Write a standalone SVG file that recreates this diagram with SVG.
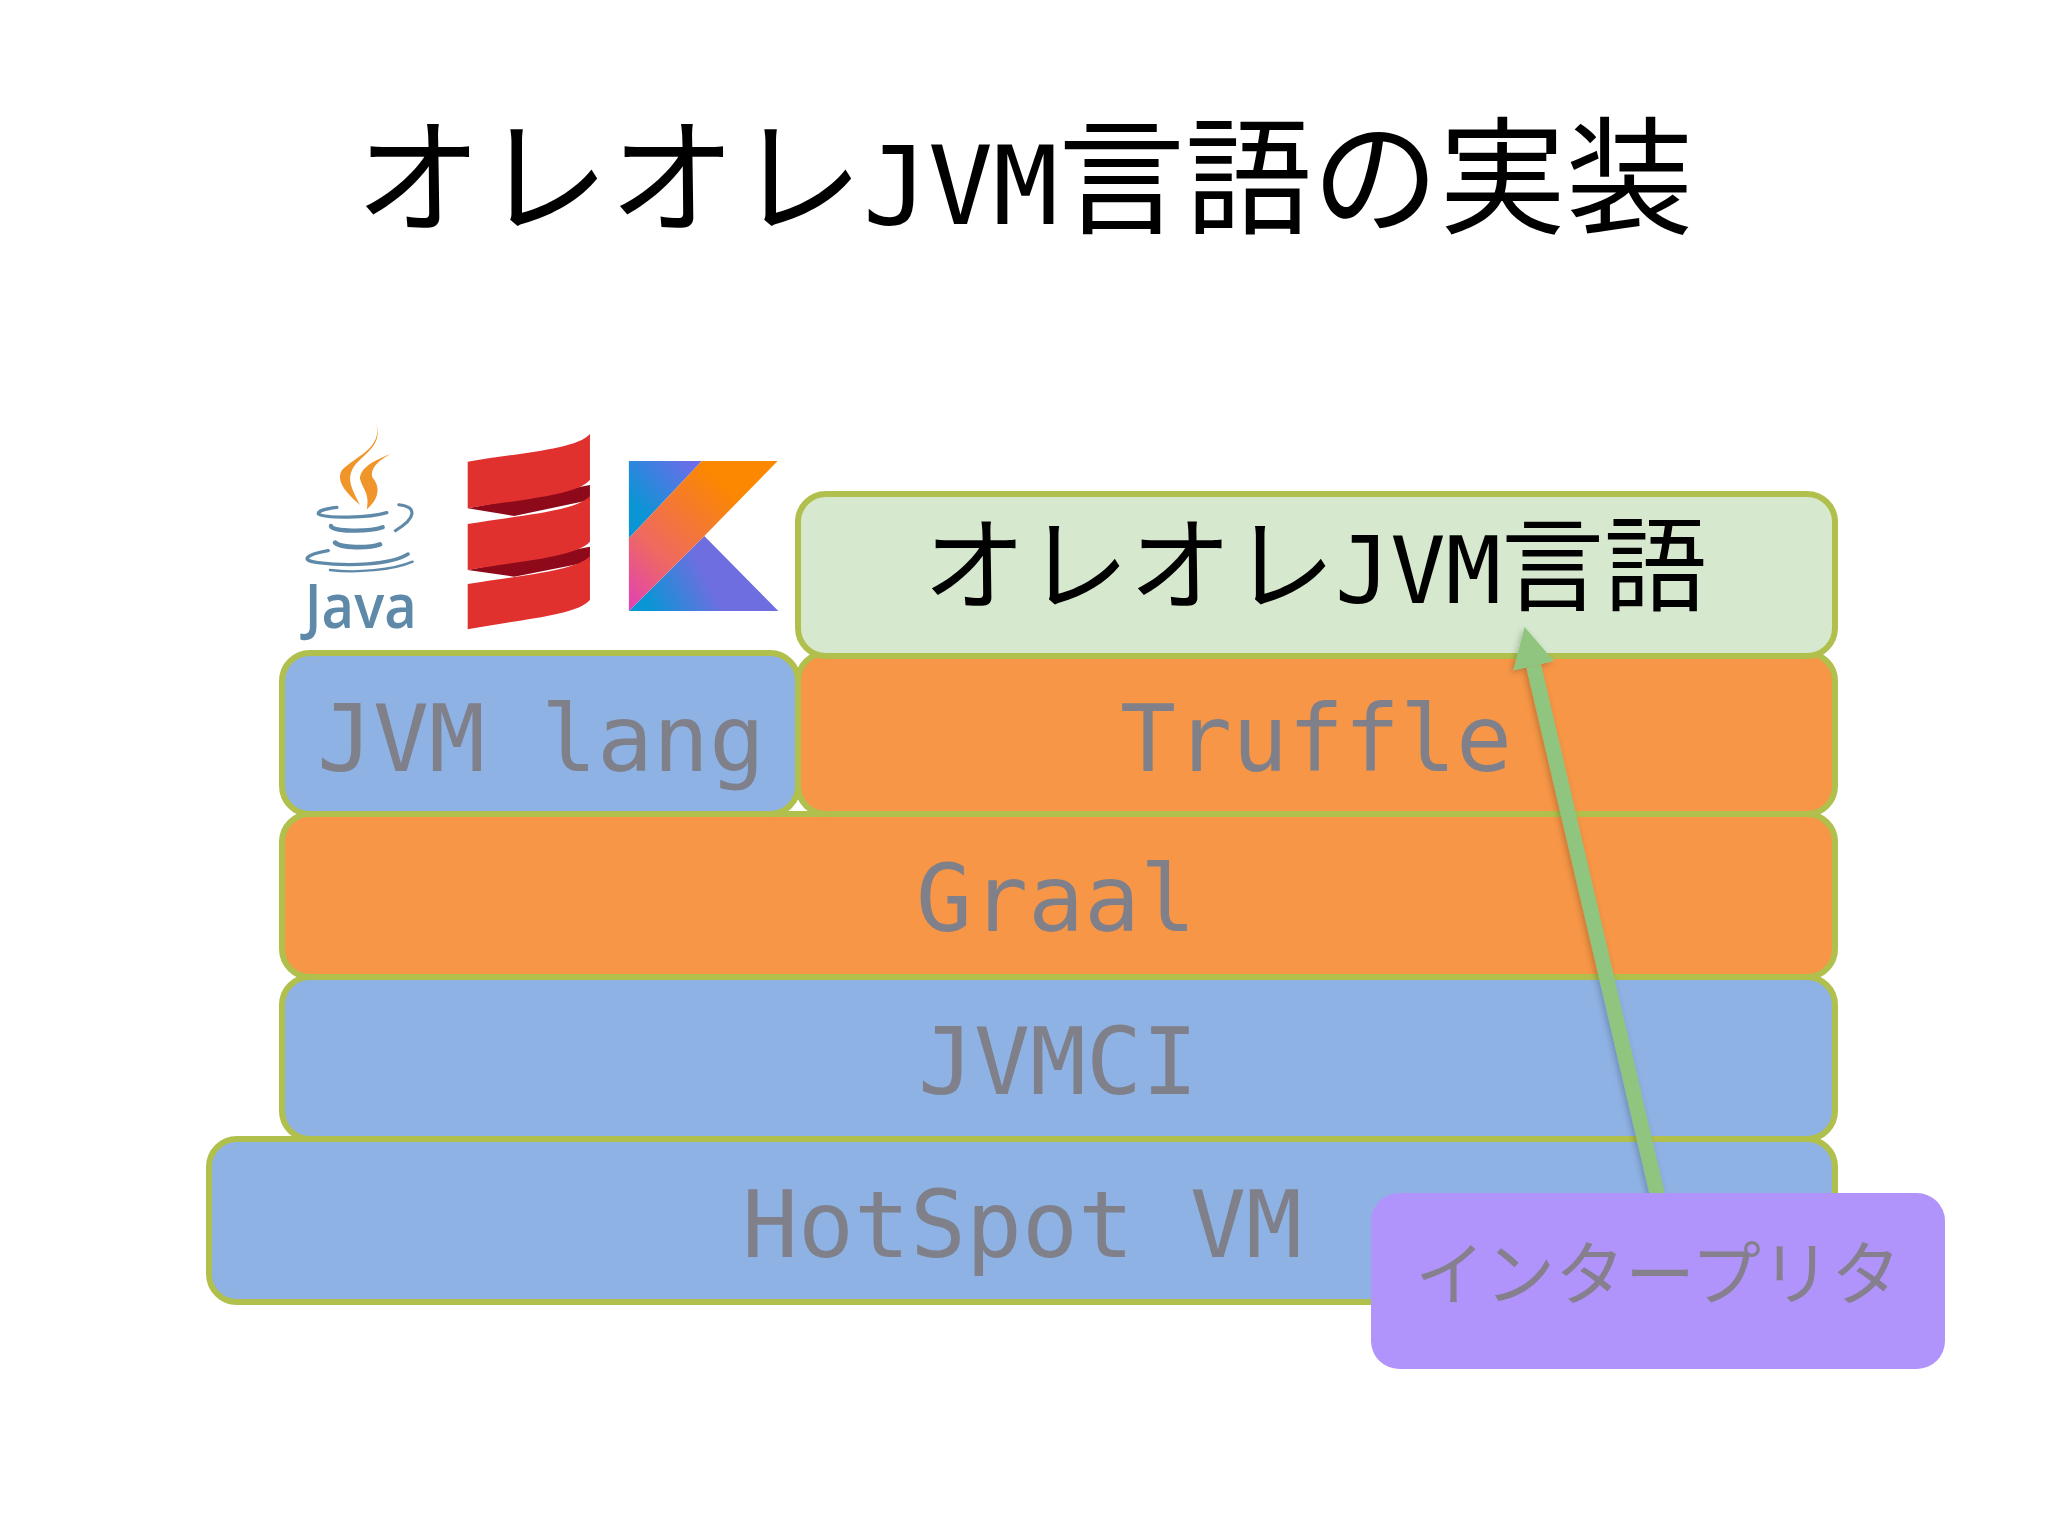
<svg xmlns="http://www.w3.org/2000/svg" width="2048" height="1536" viewBox="0 0 2048 1536">
<defs>
<style>
.box{stroke:#b1bf4c;stroke-width:6}
.blue{fill:#8eb2e4}.orange{fill:#f79646}.green{fill:#d6e8ce}
.lbl{font-family:"DejaVu Sans Mono","Noto Sans CJK JP",monospace;font-size:93px;fill:#80808a;text-anchor:middle}
.head{font-family:"Noto Sans CJK JP",sans-serif;fill:#000;text-anchor:middle}
.lat{font-family:"DejaVu Sans Mono",monospace}
</style>
<marker id="ah" markerUnits="userSpaceOnUse" markerWidth="44" markerHeight="60" refX="0" refY="30" orient="auto">
<path d="M0 9L40 30L0 51Z" fill="#8fc57f"/>
</marker>
<linearGradient id="kOrange" gradientUnits="userSpaceOnUse" x1="1013" y1="603" x2="1445" y2="153"><stop offset="0" stop-color="#e040b8"/><stop offset=".3" stop-color="#ee6a60"/><stop offset=".75" stop-color="#fb8800"/></linearGradient>
<linearGradient id="kBlue" gradientUnits="userSpaceOnUse" x1="1040" y1="300" x2="1200" y2="170"><stop offset="0" stop-color="#0a95d5"/><stop offset="1" stop-color="#6a6ee8"/></linearGradient>
<linearGradient id="kPurple" gradientUnits="userSpaceOnUse" x1="1080" y1="603" x2="1320" y2="480"><stop offset="0" stop-color="#0a95d5"/><stop offset=".7" stop-color="#6f6ee0"/></linearGradient>
<filter id="sh" filterUnits="userSpaceOnUse" x="1460" y="590" width="260" height="660"><feDropShadow dx="-2" dy="2" stdDeviation="3" flood-color="#000" flood-opacity=".22"/></filter>
</defs>
<rect width="2048" height="1536" fill="#fff"/>
<text class="head" x="1024" y="224" font-size="127">オレオレ<tspan class="lat" font-size="108">JVM</tspan>言語の実装</text>

<g id="logos">
<g id="java" transform="translate(280 410) scale(.3444 .3333)">
<path d="M280 42C296 115 225 135 180 180C160 215 195 250 232 285C212 240 185 205 222 160C260 120 295 100 280 42Z" fill="#f0952a"/>
<path d="M322 132C280 148 235 170 232 205C238 235 262 250 252 298C290 265 290 230 270 205C258 180 285 150 322 132Z" fill="#f0952a"/>
<g fill="none" stroke="#5f89a8" stroke-linecap="round">
<path d="M165 292C130 296 108 304 112 312C130 325 260 325 310 308" stroke-width="10"/>
<path d="M345 284C400 290 395 325 335 362" stroke-width="9"/>
<path d="M148 348C150 366 260 366 298 352" stroke-width="13"/>
<path d="M160 398C175 415 260 415 290 403" stroke-width="14"/>
<path d="M140 422C70 435 60 452 110 458C200 470 320 465 372 432" stroke-width="10"/>
<path d="M145 480C220 490 330 480 385 455" stroke-width="7"/>
</g>
<text x="72" y="655" font-family="'Open Sans',sans-serif" font-weight="600" font-size="185" fill="#5f89a8" textLength="325" lengthAdjust="spacingAndGlyphs">Java</text>
</g>
<g id="scala" transform="translate(280 410) scale(.3444 .3333)">
<path d="M545 295L900 225V270L680 318Z" fill="#8e0a1a"/>
<path d="M545 480L900 410V455L680 500Z" fill="#8e0a1a"/>
<path d="M545 155C680 130 860 120 900 72V210C860 258 680 270 545 295Z" fill="#e0312f"/>
<path d="M545 342C680 318 860 305 900 258V395C860 442 680 455 545 480Z" fill="#e0312f"/>
<path d="M545 522C680 498 860 485 900 438V570C860 618 680 630 545 658Z" fill="#e0312f"/>
</g>
<g id="kotlin" transform="translate(280 410) scale(.3444 .3333)">
<path d="M1013 153H1225L1013 385Z" fill="url(#kBlue)"/>
<path d="M1232 378L1447 603H1013Z" fill="url(#kPurple)"/>
<path d="M1225 153H1445L1232 378L1013 603V385Z" fill="url(#kOrange)"/>
</g>
</g>

<g id="hotspot"><rect class="box blue" x="209" y="1139" width="1626" height="163" rx="28"/><text class="lbl" x="1022" y="1257">HotSpot VM</text></g>
<g id="jvmci"><rect class="box blue" x="282" y="977" width="1553" height="162" rx="28"/><text class="lbl" x="1058" y="1094">JVMCI</text></g>
<g id="graal"><rect class="box orange" x="282" y="814" width="1553" height="163" rx="28"/><text class="lbl" x="1056" y="931">Graal</text></g>
<g id="jvmlang"><rect class="box blue" x="282" y="653" width="516" height="161" rx="28"/><text class="lbl" x="541" y="771">JVM lang</text></g>
<g id="truffle"><rect class="box orange" x="798" y="653" width="1037" height="161" rx="28"/><text class="lbl" x="1316" y="771">Truffle</text></g>
<g id="orelang"><rect class="box green" x="798" y="494" width="1037" height="162" rx="28"/><text class="head" x="1315" y="603" font-size="103">オレオレ<tspan class="lat" font-size="92">JVM</tspan>言語</text></g>

<g id="connectors" filter="url(#sh)">
<line x1="1664.5" y1="1225" x2="1533.7" y2="666" stroke="#8fc57f" stroke-width="15" marker-end="url(#ah)"/>
</g>

<g id="interpreter"><rect x="1371" y="1193" width="574" height="176" rx="28" fill="#b194fb"/><text x="1658" y="1300" font-family="'Noto Sans CJK JP',sans-serif" font-size="70" fill="#86808e" text-anchor="middle">インタープリタ</text></g>
</svg>
